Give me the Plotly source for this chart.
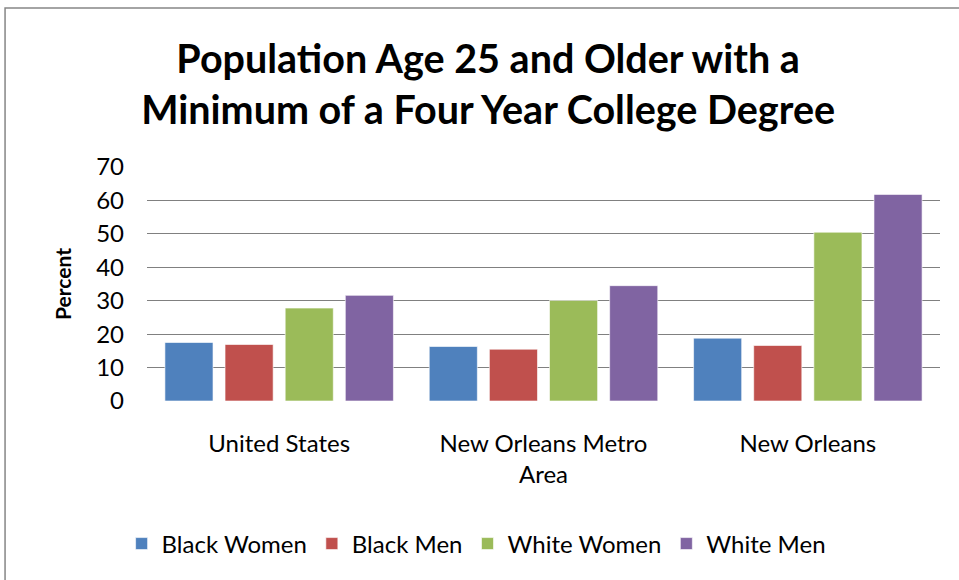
import plotly.graph_objects as go

# categories and series (percent)
categories = ["United States", "New Orleans Metro<br>Area", "New Orleans"]
black_women = [17.5, 16.3, 18.8]
black_men = [16.9, 15.5, 16.6]
white_women = [27.8, 30.1, 50.5]
white_men = [31.6, 34.5, 61.8]

series = [
    ("Black Women", black_women, "#4F81BD"),
    ("Black Men", black_men, "#C0504D"),
    ("White Women", white_women, "#9BBB59"),
    ("White Men", white_men, "#8064A2"),
]

font_family = "Lato"

fig = go.Figure()
for name, vals, color in series:
    fig.add_trace(go.Bar(
        x=categories,
        y=vals,
        name=name,
        marker=dict(color=color, line=dict(color="rgba(255,255,255,0.6)", width=1)),
    ))

fig.update_layout(
    title=dict(
        text="<b>Population Age 25 and Older with a<br>Minimum of a Four Year College Degree</b>",
        x=0.509, xanchor="center", y=0.874, yanchor="middle",
        font=dict(size=39.5, color="black", family=font_family),
    ),
    barmode="group",
    bargap=0.09,
    bargroupgap=0.2,
    xaxis=dict(
        showgrid=False,
        showline=False,
        ticks="",
        ticklabelstandoff=26,
        tickfont=dict(size=24, color="black"),
    ),
    yaxis=dict(
        range=[0, 70],
        dtick=10,
        showgrid=True,
        gridcolor="#808080",
        gridwidth=1.3,
        zeroline=False,
        showline=False,
        ticks="",
        ticklabelstandoff=22,
        tickfont=dict(size=24, color="black"),
        title=dict(text="<b>Percent</b>", font=dict(size=21, color="black"), standoff=18),
    ),
    legend=dict(
        orientation="h",
        x=0.415, xanchor="center",
        y=-0.611, yanchor="middle",
        font=dict(size=24, color="black"),
        itemwidth=30,
        traceorder="normal",
    ),
    font=dict(family=font_family, color="black"),
    plot_bgcolor="white",
    paper_bgcolor="white",
    width=959,
    height=580,
    margin=dict(l=147, r=19, t=167, b=179),
    shapes=[dict(
        type="rect", xref="paper", yref="paper",
        x0=-0.179, x1=1.03, y0=-0.8, y1=1.679,
        line=dict(color="#868686", width=1.5),
    )],
)

fig.write_html(
    "out.html",
    config={"displayModeBar": False},
    post_script="document.body.style.margin='0px';",
)
